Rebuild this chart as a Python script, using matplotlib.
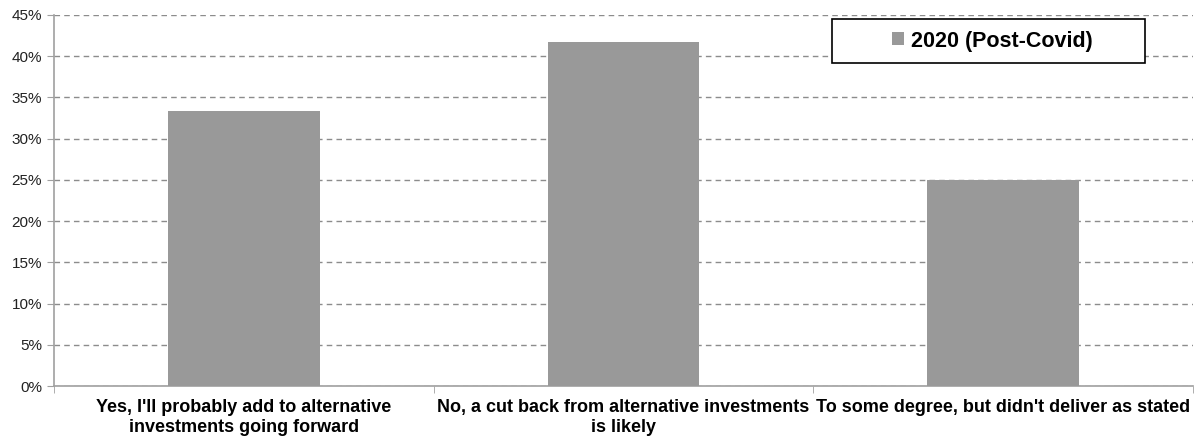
import matplotlib
matplotlib.use("Agg")
import matplotlib.pyplot as plt
import numpy as np
from matplotlib.ticker import PercentFormatter, FixedLocator
from matplotlib.patches import Rectangle

plt.rcParams['font.family'] = ['Liberation Sans', 'DejaVu Sans']

categories = ["Yes, I'll probably add to alternative\ninvestments going forward",
              "No, a cut back from alternative investments\nis likely",
              "To some degree, but didn't deliver as stated"]
values = [33.3, 41.7, 25.0]
series_name = "2020 (Post-Covid)"

fig = plt.figure(figsize=(11.98, 4.41), dpi=100)
ax = fig.add_axes([0.0451, 0.1247, 0.9507, 0.8413])

x = np.arange(len(categories))
ax.bar(x, values, width=0.4, color='#999999', label=series_name, zorder=3)

ax.set_xlim(-0.5, len(categories) - 0.5)
ax.set_ylim(0, 45)
ax.set_yticks(np.arange(0, 46, 5))
ax.yaxis.set_major_formatter(PercentFormatter(decimals=0))
ax.grid(axis='y', color='#8c8c8c', linestyle=(0, (4, 3)), linewidth=1, zorder=0)

# category labels, ticks between categories
ax.set_xticks(x)
ax.set_xticklabels(categories, fontsize=13, fontweight='bold', color='black', linespacing=1.25)
ax.xaxis.set_minor_locator(FixedLocator(np.arange(-0.5, len(categories), 1)))
ax.tick_params(axis='x', which='major', length=0, pad=9)
ax.tick_params(axis='x', which='minor', length=5, color='#a0a0a0')
ax.tick_params(axis='y', length=5, color='#a0a0a0', labelsize=11, labelcolor='#222222')

for side in ['top', 'right']:
    ax.spines[side].set_visible(False)
for side in ['left', 'bottom']:
    ax.spines[side].set_color('#a0a0a0')
    ax.spines[side].set_linewidth(1.2)

# legend box drawn separately so it can be wider than the entry
ax.add_artist(Rectangle((0.6945, 0.8571), 0.2613, 0.0998, transform=fig.transFigure,
                        facecolor='white', edgecolor='black', linewidth=1.2, zorder=5))
leg = ax.legend(loc='center', bbox_to_anchor=(0.8285, 0.907), bbox_transform=fig.transFigure,
                frameon=False, prop={'weight': 'bold', 'size': 15.5}, handlelength=0.55,
                handleheight=0.55, handletextpad=0.35, borderpad=0, borderaxespad=0)
leg.set_zorder(6)

fig.savefig("out.png", dpi=100)
